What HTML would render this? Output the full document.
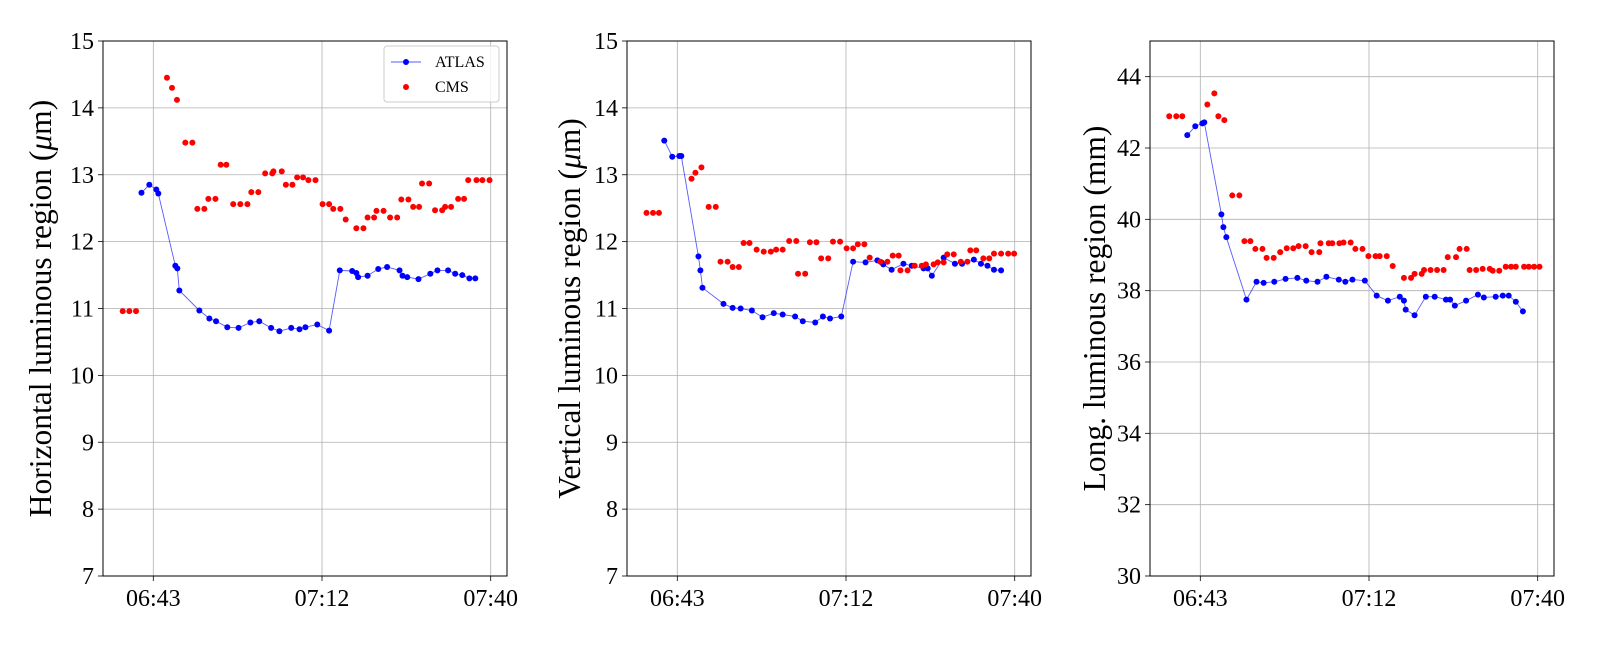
<!DOCTYPE html>
<html><head><meta charset="utf-8"><style>
body{margin:0;background:#fff;}
svg text{font-family:"Liberation Serif",serif;fill:#000;}
</style></head><body>
<svg id="chart" width="1600" height="640" viewBox="0 0 1600 640" xmlns="http://www.w3.org/2000/svg"></svg>
<script>
// ---- data (minutes relative to 06:43) ----
const xTickLabels = ["06:43","07:12","07:40"];
const xTickValues = [0, 28.5, 57];

// Panel 1 horizontal
const hAtlasT = [-2.0,-0.67,0.51,0.85,3.72,4.06,4.4,7.78,9.47,10.6,12.5,14.4,16.4,17.9,19.9,21.3,23.3,24.7,25.7,27.7,29.7,31.5,33.6,34.3,34.6,36.2,38.0,39.5,41.6,42.1,42.9,44.8,46.8,48.0,49.8,51.0,52.2,53.4,54.4];
const hAtlasV = [12.73,12.85,12.78,12.72,11.64,11.6,11.27,10.97,10.85,10.81,10.72,10.71,10.79,10.81,10.71,10.66,10.71,10.69,10.72,10.76,10.67,11.57,11.56,11.53,11.47,11.49,11.59,11.62,11.57,11.49,11.47,11.44,11.52,11.57,11.57,11.52,11.5,11.45,11.45];
const hCmsT = [-5.17,-4.05,-2.92,2.31,3.16,4.0,5.41,6.6,7.44,8.62,9.3,10.5,11.38,12.34,13.5,14.7,15.9,16.56,17.74,18.9,20.1,20.3,21.7,22.4,23.5,24.3,25.3,26.2,27.4,28.6,29.7,30.4,31.6,32.5,34.3,35.5,36.2,37.3,37.7,38.9,40.0,41.2,41.9,43.1,43.9,44.9,45.4,46.6,47.6,48.8,49.3,50.3,51.5,52.5,53.2,54.6,55.6,56.8];
const hCmsV = [10.96,10.96,10.96,14.45,14.30,14.12,13.48,13.48,12.49,12.49,12.64,12.64,13.15,13.15,12.56,12.56,12.56,12.74,12.74,13.02,13.02,13.05,13.05,12.85,12.85,12.96,12.96,12.92,12.92,12.56,12.56,12.49,12.49,12.33,12.2,12.2,12.36,12.36,12.46,12.46,12.36,12.36,12.63,12.63,12.52,12.52,12.87,12.87,12.47,12.47,12.52,12.52,12.64,12.64,12.92,12.92,12.92,12.92];

// Panel 2 vertical
const vAtlasT = [-2.2,-0.85,0.34,0.68,3.57,3.9,4.25,7.8,9.35,10.7,12.6,14.4,16.3,17.8,19.9,21.2,23.3,24.6,25.8,27.7,29.7,31.8,33.8,34.5,34.8,36.2,38.2,39.6,41.6,42.3,43.0,45.0,46.9,48.1,50.1,51.3,52.4,53.5,54.7];
const vAtlasV = [13.51,13.27,13.28,13.28,11.78,11.57,11.31,11.07,11.01,11.0,10.97,10.87,10.93,10.91,10.88,10.81,10.79,10.88,10.85,10.88,11.70,11.69,11.72,11.69,11.66,11.58,11.67,11.64,11.60,11.60,11.49,11.76,11.67,11.67,11.73,11.67,11.64,11.58,11.57];
const vCmsT = [-5.2,-4.1,-3.1,2.4,3.06,4.08,5.3,6.5,7.3,8.5,9.35,10.4,11.2,12.2,13.4,14.6,15.8,16.7,17.8,18.9,20.1,20.4,21.6,22.4,23.5,24.3,25.5,26.3,27.5,28.6,29.7,30.5,31.6,32.5,34.3,35.5,36.4,37.4,37.7,38.9,40.1,41.3,42.0,43.3,44.0,45.0,45.6,46.7,47.9,49.0,49.5,50.5,51.7,52.7,53.5,54.7,55.9,56.9];
const vCmsV = [12.43,12.43,12.43,12.94,13.03,13.11,12.52,12.52,11.70,11.70,11.62,11.62,11.98,11.98,11.88,11.85,11.85,11.88,11.88,12.01,12.01,11.52,11.52,11.99,11.99,11.75,11.75,12.0,12.0,11.90,11.90,11.96,11.96,11.76,11.70,11.70,11.79,11.79,11.57,11.57,11.64,11.64,11.66,11.66,11.69,11.69,11.81,11.81,11.70,11.70,11.87,11.87,11.75,11.75,11.82,11.82,11.82,11.82];

// Panel 3 longitudinal
const lAtlasT = [-2.2,-0.85,0.34,0.68,3.56,3.9,4.4,7.8,9.5,10.7,12.5,14.4,16.4,17.9,19.8,21.3,23.4,24.5,25.7,27.8,29.8,31.7,33.7,34.4,34.7,36.2,38.1,39.6,41.5,42.2,43.0,44.9,46.9,47.9,49.9,51.1,52.1,53.3,54.5];
const lAtlasV = [42.36,42.61,42.69,42.72,40.14,39.78,39.5,37.75,38.25,38.22,38.25,38.33,38.36,38.28,38.25,38.39,38.31,38.25,38.31,38.28,37.86,37.72,37.83,37.72,37.47,37.31,37.83,37.83,37.75,37.75,37.58,37.72,37.89,37.81,37.83,37.86,37.86,37.69,37.42];
const lCmsT = [-5.25,-4.06,-3.05,1.19,2.37,3.05,4.06,5.4,6.6,7.45,8.46,9.3,10.5,11.2,12.4,13.5,14.6,15.7,16.6,17.8,18.8,20.1,20.3,21.7,22.3,23.5,24.2,25.4,26.2,27.4,28.4,29.6,30.3,31.5,32.5,34.4,35.6,36.2,37.4,37.8,38.9,40.0,41.1,41.8,43.2,43.8,45.0,45.5,46.6,47.7,48.9,49.4,50.5,51.6,52.5,53.3,54.7,55.5,56.4,57.3];
const lCmsV = [42.89,42.89,42.89,43.22,43.53,42.89,42.78,40.67,40.67,39.39,39.39,39.17,39.17,38.92,38.92,39.08,39.19,39.19,39.25,39.25,39.08,39.08,39.33,39.33,39.33,39.33,39.35,39.35,39.17,39.17,38.97,38.97,38.97,38.97,38.69,38.36,38.36,38.47,38.47,38.58,38.58,38.58,38.58,38.94,38.94,39.17,39.17,38.58,38.58,38.61,38.61,38.56,38.56,38.67,38.67,38.67,38.67,38.67,38.67,38.67];

const yTicks1 = [7,8,9,10,11,12,13,14,15];
const yTicks3 = [30,32,34,36,38,40,42,44];

const NS = "http://www.w3.org/2000/svg";
const svg = document.getElementById("chart");
function mk(tag, attrs, parent){
  const e = document.createElementNS(NS, tag);
  for (const k in attrs) e.setAttribute(k, attrs[k]);
  (parent||svg).appendChild(e);
  return e;
}

const W = 404;
const panels = [
  {name:"horizontal", left:103, grid0:153.3, ymin:7, ymax:15, ticks:yTicks1, title:"Horizontal luminous region (", unit:"μm", at:hAtlasT, av:hAtlasV, ct:hCmsT, cv:hCmsV, legend:true, titleX:51},
  {name:"vertical", left:627, grid0:677.3, ymin:7, ymax:15, ticks:yTicks1, title:"Vertical luminous region (", unit:"μm", at:vAtlasT, av:vAtlasV, ct:vCmsT, cv:vCmsV, legend:false, titleX:580},
  {name:"longitudinal", left:1150, grid0:1200.3, ymin:30, ymax:45, ticks:yTicks3, title:"Long. luminous region (mm)", unit:null, at:lAtlasT, av:lAtlasV, ct:lCmsT, cv:lCmsV, legend:false, titleX:1105}
];
const TOP = 41, BOT = 576, PXMIN = 337.4/57;

panels.forEach(p => {
  const right = p.left + W;
  const g = mk("g", {});
  
  
  const xs = t => p.grid0 + t * PXMIN;
  const ys = v => BOT - (v - p.ymin) / (p.ymax - p.ymin) * (BOT - TOP);
  xTickValues.forEach((t,i) => {
    const l = mk("line", {x1:xs(t), x2:xs(t), y1:TOP, y2:BOT, stroke:"#b0b0b0", "stroke-width":0.8}, g);
    
    
    mk("line", {x1:xs(t), x2:xs(t), y1:BOT, y2:BOT+5, stroke:"#000", "stroke-width":0.8}, g);
    const tx = mk("text", {x:xs(t), y:BOT+30, "font-size":24, "text-anchor":"middle"}, g);
    tx.textContent = xTickLabels[i];
    
    
  });
  p.ticks.forEach(v => {
    const l = mk("line", {x1:p.left, x2:right, y1:ys(v), y2:ys(v), stroke:"#b0b0b0", "stroke-width":0.8}, g);
    
    
    mk("line", {x1:p.left-5, x2:p.left, y1:ys(v), y2:ys(v), stroke:"#000", "stroke-width":0.8}, g);
    const tx = mk("text", {x:p.left-9, y:ys(v)+8, "font-size":24, "text-anchor":"end"}, g);
    tx.textContent = v;
    
    
  });
  const fr = mk("rect", {x:p.left, y:TOP, width:W, height:BOT-TOP, fill:"none", stroke:"#000", "stroke-width":1}, g);
  
  
  const pts = p.at.map((t,i) => xs(t).toFixed(1)+","+ys(p.av[i]).toFixed(1)).join(" ");
  const pl = mk("polyline", {points:pts, fill:"none", stroke:"#0000ff", "stroke-opacity":0.65, "stroke-width":0.9}, g);
  
  
  p.at.forEach((t,i) => {
    const c = mk("circle", {cx:xs(t), cy:ys(p.av[i]), r:3, fill:"#0000ff"}, g);
    
    
  });
  p.ct.forEach((t,i) => {
    const c = mk("circle", {cx:xs(t), cy:ys(p.cv[i]), r:3, fill:"#ff0000"}, g);
    
    
  });
  const tt = mk("text", {x:0, y:0, "font-size":31.5, "text-anchor":"middle", transform:`translate(${p.titleX},${(TOP+BOT)/2}) rotate(-90)`}, g);
  if (p.unit) {
    tt.appendChild(document.createTextNode(p.title));
    const ts = mk("tspan", {"font-style":"italic"}, tt);
    ts.textContent = "μ";
    tt.appendChild(document.createTextNode("m)"));
  } else tt.textContent = p.title;
  
  
  if (p.legend) {
    const lg = mk("g", {}, g);
    
    
    mk("rect", {x:384, y:46, width:115, height:56, rx:3, fill:"#fff", "fill-opacity":0.8, stroke:"#ccc", "stroke-width":1}, lg);
    mk("line", {x1:391, x2:421, y1:62, y2:62, stroke:"#0000ff", "stroke-opacity":0.65, "stroke-width":0.9}, lg);
    mk("circle", {cx:406, cy:62, r:3, fill:"#0000ff"}, lg);
    const a = mk("text", {x:435, y:67, "font-size":16}, lg); a.textContent = "ATLAS";
    
    
    mk("circle", {cx:406, cy:87, r:3, fill:"#ff0000"}, lg);
    const b = mk("text", {x:435, y:92, "font-size":16}, lg); b.textContent = "CMS";
    
    
  }
});
</script>
</body></html>
